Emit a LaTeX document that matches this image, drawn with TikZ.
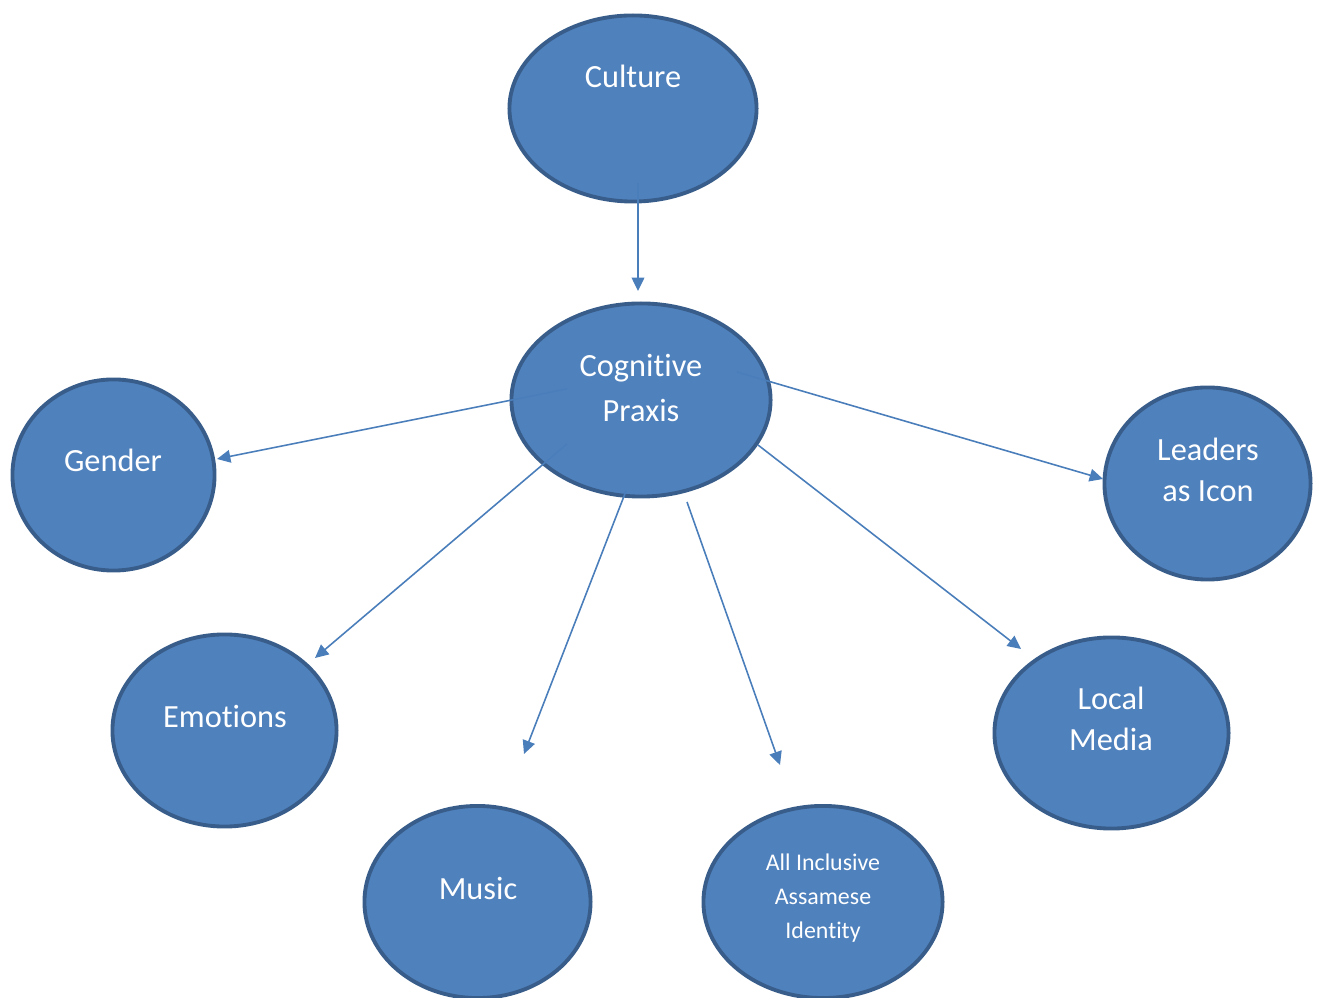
\documentclass[tikz,border=0pt]{standalone}
\usepackage{fontspec}
\setmainfont{Carlito}[Ligatures=NoCommon]
\usetikzlibrary{arrows.meta,shapes.geometric}
\definecolor{blobfill}{HTML}{4F81BD}
\definecolor{blobline}{HTML}{385D8A}
\definecolor{arrowcol}{HTML}{4A7EBB}
\tikzset{
  blob/.style={ellipse, draw=blobline, fill=blobfill, line width=1.1pt, inner sep=0pt},
  lbl/.style={anchor=base, text=white, inner sep=0pt, font=\fontsize{9.2}{11}\selectfont},
  smalllbl/.style={anchor=base, text=white, inner sep=0pt, font=\fontsize{6.8}{8}\selectfont},
  conn/.style={draw=arrowcol, line width=0.45pt, -{Triangle[length=3.8pt,width=3.6pt]}}
}
\begin{document}
\begin{tikzpicture}[x=0.01cm, y=-0.01cm]
\useasboundingbox (0,0) rectangle (1324,998);
% ellipses
\node[blob, minimum width=2.47cm, minimum height=1.86cm] (culture) at (633,108.5) {};
\node[blob, minimum width=2.59cm, minimum height=1.93cm] (praxis) at (641,400) {};
\node[blob, minimum width=2.02cm, minimum height=1.91cm] (gender) at (113.5,475) {};
\node[blob, minimum width=2.06cm, minimum height=1.92cm] (leaders) at (1207.5,483.5) {};
\node[blob, minimum width=2.24cm, minimum height=1.92cm] (emotions) at (224.5,730.5) {};
\node[blob, minimum width=2.34cm, minimum height=1.91cm] (media) at (1111.5,733) {};
\node[blob, minimum width=2.26cm, minimum height=1.92cm] (music) at (477.5,902) {};
\node[blob, minimum width=2.39cm, minimum height=1.92cm] (identity) at (823,902) {};
% labels
\node[lbl] (tculture) at (633,87.5) {Culture};
\node[lbl] (tpraxisA) at (641,376.5) {Cognitive};
\node[lbl] (tpraxisB) at (641,421.5) {Praxis};
\node[lbl] (tgender) at (113,471.5) {Gender};
\node[lbl] (tleadersA) at (1208,460.5) {Leaders};
\node[lbl] (tleadersB) at (1208,501.5) {as Icon};
\node[lbl] (temotions) at (225,727.5) {Emotions};
\node[lbl] (tmediaA) at (1111,709.5) {Local};
\node[lbl] (tmediaB) at (1111,750.5) {Media};
\node[lbl] (tmusic) at (478,899.5) {Music};
\node[smalllbl] (tidA) at (823,871) {All Inclusive};
\node[smalllbl] (tidB) at (823,905) {Assamese};
\node[smalllbl] (tidC) at (823,939) {Identity};
% connector ends
\coordinate (sCulture) at (638,183);
\coordinate (eCulture) at (638,291);
\coordinate (sGender) at (567,389);
\coordinate (eGender) at (217,459);
\coordinate (sLeaders) at (737,372);
\coordinate (eLeaders) at (1103,479);
\coordinate (sEmotions) at (567,444);
\coordinate (eEmotions) at (315,658);
\coordinate (sMusic) at (626,491);
\coordinate (eMusic) at (524,754);
\coordinate (sIdentity) at (687,502);
\coordinate (eIdentity) at (780,765);
\coordinate (sMedia) at (758,445);
\coordinate (eMedia) at (1021,649);
% connectors
\draw[conn] (sCulture) -- (eCulture);
\draw[conn] (sGender) -- (eGender);
\draw[conn] (sLeaders) -- (eLeaders);
\draw[conn] (sEmotions) -- (eEmotions);
\draw[conn] (sMusic) -- (eMusic);
\draw[conn] (sIdentity) -- (eIdentity);
\draw[conn] (sMedia) -- (eMedia);
\end{tikzpicture}
\end{document}
